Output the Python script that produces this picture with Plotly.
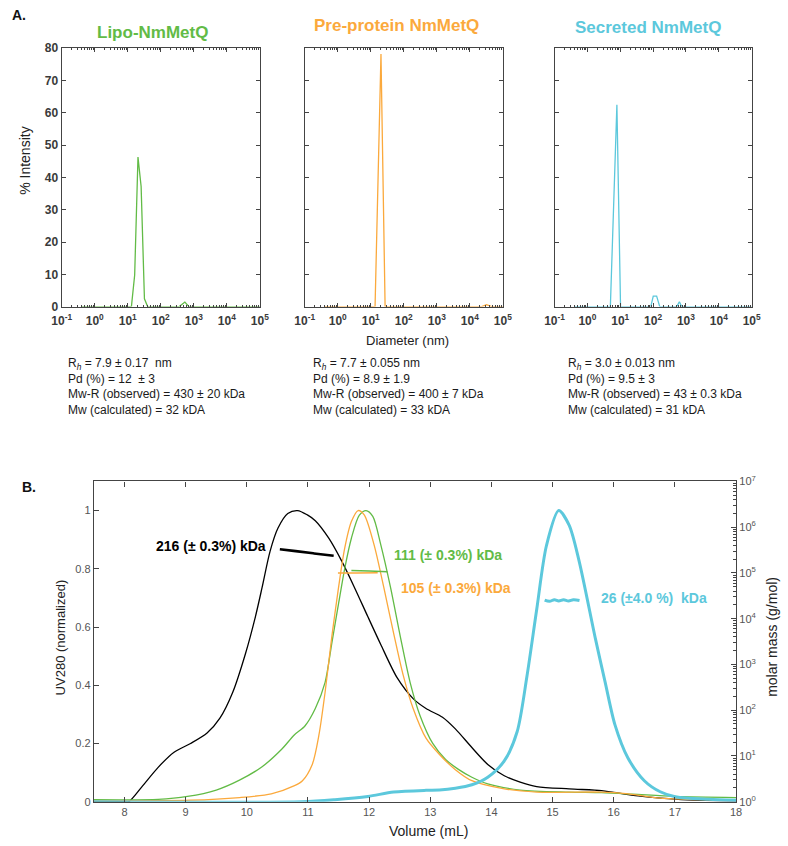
import plotly.graph_objects as go

W, H = 788, 846
GREEN = "#62BB46"
ORANGE = "#FBA93C"
CYAN = "#5CC8DC"
BLACK = "#000000"
AX = "#444444"
FONT = "Liberation Sans, Arial, Helvetica, sans-serif"

# ---------------- Panel A data (DLS, % intensity vs diameter nm) -------------
lipo_d = [0.4, 12.9, 16.2, 20.4, 25.4, 32, 40, 363, 537, 716, 1e5]
lipo_i = [0, 0, 9.8, 46.3, 37.2, 2.4, 0, 0, 1.4, 0, 0]

pre_d = [0.4, 13.5, 20.4, 27.2, 2.3e4, 3.2e4, 4.6e4, 1e5]
pre_i = [0, 0, 78.2, 0, 0, 0.6, 0, 0]

sec_d = [0.4, 5.0, 7.9, 10.2, 85, 101, 128, 159, 525, 630, 740, 1e5]
sec_i = [0, 0, 62.5, 0, 0, 3.25, 3.25, 0, 0, 1.5, 0, 0]

panel_titles = ["Lipo-NmMetQ", "Pre-protein NmMetQ", "Secreted NmMetQ"]
dec_vals = [0.1, 1, 10, 100, 1e3, 1e4, 1e5]
dec_text = ["10<sup>-1</sup>", "10<sup>0</sup>", "10<sup>1</sup>", "10<sup>2</sup>",
            "10<sup>3</sup>", "10<sup>4</sup>", "10<sup>5</sup>"]
int_ticks = [0, 10, 20, 30, 40, 50, 60, 70, 80]

stats = [
    ["R<sub><i>h</i></sub> = 7.9 ± 0.17  nm", "Pd (%) = 12  ± 3",
     "Mw-R (observed) = 430 ± 20 kDa", "Mw (calculated) = 32 kDA"],
    ["R<sub><i>h</i></sub> = 7.7 ± 0.055 nm", "Pd (%) = 8.9 ± 1.9",
     "Mw-R (observed) = 400 ± 7 kDa", "Mw (calculated) = 33 kDA"],
    ["R<sub><i>h</i></sub> = 3.0 ± 0.013 nm", "Pd (%) = 9.5 ± 3",
     "Mw-R (observed) = 43 ± 0.3 kDa", "Mw (calculated) = 31 kDA"],
]

# ---------------- Panel B data (SEC-MALS) ------------------------------------
black_x = [7.5, 8.0, 8.07, 8.28, 8.55, 8.81, 9.08, 9.35, 9.56, 9.77, 9.98, 10.14, 10.25,
           10.38, 10.51, 10.67, 10.83, 10.99, 11.12, 11.34, 11.55, 11.76, 11.98, 12.19,
           12.46, 12.72, 12.93, 13.2, 13.41, 13.68, 13.94, 14.21, 14.47, 14.74, 15.27,
           15.8, 16.0, 16.4, 16.77, 17.2, 18.0]
black_y = [0.0, 0.0, 0.0, 0.05, 0.118, 0.17, 0.2, 0.236, 0.287, 0.376, 0.51, 0.635, 0.736,
           0.86, 0.94, 0.99, 1.0, 0.985, 0.965, 0.905, 0.827, 0.736, 0.635, 0.54,
           0.425, 0.354, 0.32, 0.29, 0.25, 0.186, 0.128, 0.089, 0.067, 0.052, 0.044,
           0.038, 0.032, 0.02, 0.012, 0.006, 0.003]

green_x = [7.5, 8.55, 9.03, 9.5, 9.88, 10.25, 10.57, 10.78, 10.95, 11.12, 11.28, 11.39,
           11.5, 11.6, 11.71, 11.84, 11.95, 12.06, 12.19, 12.35, 12.51, 12.67, 12.83,
           13.04, 13.25, 13.46, 13.68, 13.94, 14.47, 15.27, 15.8, 16.3, 17.0, 18.0]
green_y = [0.007, 0.008, 0.018, 0.04, 0.074, 0.12, 0.18, 0.23, 0.26, 0.32, 0.41, 0.545,
           0.68, 0.80, 0.905, 0.984, 1.0, 0.98, 0.883, 0.736, 0.567, 0.41, 0.297,
           0.2, 0.145, 0.111, 0.084, 0.061, 0.04, 0.033, 0.031, 0.026, 0.018, 0.014]

orange_x = [7.5, 9.08, 9.88, 10.4, 10.78, 10.91, 11.07, 11.18, 11.28, 11.39, 11.5, 11.6,
            11.71, 11.82, 11.92, 12.08, 12.24, 12.4, 12.56, 12.72, 12.93, 13.15, 13.41,
            13.68, 14.21, 14.74, 15.8, 16.2, 16.76, 17.4, 18.0]
orange_y = [0.003, 0.005, 0.014, 0.027, 0.055, 0.072, 0.128, 0.23, 0.376, 0.567, 0.736, 0.87,
            0.962, 1.0, 0.985, 0.883, 0.736, 0.579, 0.432, 0.32, 0.218, 0.162, 0.11,
            0.072, 0.044, 0.033, 0.033, 0.028, 0.012, 0.007, 0.005]

cyan_x = [7.5, 10.9, 11.44, 11.98, 12.4, 12.93, 13.15, 13.41, 13.68, 13.94, 14.21, 14.42,
          14.58, 14.74, 14.9, 15.1, 15.27, 15.43, 15.7, 15.86, 16.02, 16.23, 16.5, 16.76,
          17.02, 17.55, 18.0]
cyan_y = [0.0, 0.0, 0.007, 0.018, 0.033, 0.039, 0.04, 0.046, 0.058, 0.084, 0.14, 0.24,
          0.43, 0.66, 0.88, 1.0, 0.95, 0.83, 0.56, 0.41, 0.264, 0.151, 0.072, 0.034,
          0.016, 0.008, 0.005]

# molar mass (g/mol) on right log axis
mm_black_x = [10.54, 10.8, 11.1, 11.42]
mm_black_y = [3.3e5, 3.0e5, 2.67e5, 2.37e5]
mm_green_x = [11.71, 12.0, 12.3]
mm_green_y = [1.13e5, 1.1e5, 1.06e5]
mm_orange_x = [11.49, 11.8, 12.14]
mm_orange_y = [1.0e5, 1.0e5, 1.01e5]
mm_cyan_x = [14.87, 14.95, 15.03, 15.1, 15.18, 15.26, 15.34, 15.44]
mm_cyan_y = [2.55e4, 2.4e4, 2.6e4, 2.45e4, 2.6e4, 2.45e4, 2.6e4, 2.5e4]

vol_ticks = [8, 9, 10, 11, 12, 13, 14, 15, 16, 17, 18]
uv_ticks = [0, 0.2, 0.4, 0.6, 0.8, 1.0]
uv_text = ["0", "0.2", "0.4", "0.6", "0.8", "1"]
mm_vals = [1, 10, 100, 1e3, 1e4, 1e5, 1e6, 1e7]
mm_text = ["10<sup>%d</sup>" % i for i in range(8)]

mass_labels = [
    ("216 (± 0.3%) kDa", BLACK, 206, 548),
    ("111 (± 0.3%) kDa", GREEN, 449, 557),
    ("105 (± 0.3%) kDa", ORANGE, 457, 590),
    ("26 (±4.0 %)  kDa", CYAN, 660, 601),
]


def pxx(x):
    return x / W


def pxy(y):
    return 1 - y / H


fig = go.Figure()

# Panel A traces
for (d, i, c, n) in [(lipo_d, lipo_i, GREEN, ""), (pre_d, pre_i, ORANGE, "2"), (sec_d, sec_i, CYAN, "3")]:
    fig.add_trace(go.Scatter(x=d, y=i, mode="lines", line=dict(color=c, width=1.3),
                             xaxis="x" + n, yaxis="y" + n, showlegend=False, hoverinfo="skip"))

# Panel B traces
for (xx, yy, c, w) in [(black_x, black_y, BLACK, 1.3), (green_x, green_y, GREEN, 1.3),
                       (orange_x, orange_y, ORANGE, 1.3), (cyan_x, cyan_y, CYAN, 3.0)]:
    fig.add_trace(go.Scatter(x=xx, y=yy, mode="lines", line=dict(color=c, width=w, shape="spline", smoothing=0.8),
                             xaxis="x4", yaxis="y4", showlegend=False, hoverinfo="skip"))

for (xx, yy, c, w) in [(mm_black_x, mm_black_y, BLACK, 2.6), (mm_orange_x, mm_orange_y, ORANGE, 1.5),
                       (mm_green_x, mm_green_y, GREEN, 1.5), (mm_cyan_x, mm_cyan_y, CYAN, 3.0)]:
    fig.add_trace(go.Scatter(x=xx, y=yy, mode="lines", line=dict(color=c, width=w, shape="spline"),
                             xaxis="x4", yaxis="y5", showlegend=False, hoverinfo="skip"))

minor_log = [m * 10 ** e for e in range(-1, 5) for m in range(2, 10)]
minor_mm = [m * 10 ** e for e in range(0, 7) for m in range(2, 10)]

top_dom_y = [pxy(304), pxy(41)]
top_doms_x = [[pxx(53), pxx(256)], [pxx(302), pxx(505)], [pxx(558), pxx(760)]]

layout = dict(
    width=W, height=H, margin=dict(l=0, r=0, t=0, b=0),
    paper_bgcolor="white", plot_bgcolor="white",
    font=dict(family=FONT, color="#222"),
    showlegend=False,
)

for k, n in enumerate(["", "2", "3"]):
    layout["xaxis" + n] = dict(
        type="log", range=[-1, 5], domain=top_doms_x[k], anchor="y" + n,
        tickmode="array", tickvals=dec_vals, ticktext=dec_text,
        ticks="inside", ticklen=4, tickcolor=AX, showline=True, linecolor=AX, linewidth=1.2,
        mirror="ticks", showgrid=False, zeroline=False, ticklabelstandoff=3,
        minor=dict(tickvals=minor_log, ticks="inside", ticklen=2, tickcolor=AX, showgrid=False),
        tickfont=dict(size=12, color="#3a3a3a", weight="bold"),
    )
    layout["yaxis" + n] = dict(
        range=[0, 80], domain=top_dom_y, anchor="x" + n,
        tickmode="array", tickvals=int_ticks, showticklabels=(k == 0),
        ticks="inside", ticklen=4, tickcolor=AX, showline=True, linecolor=AX, linewidth=1.2,
        mirror="ticks", showgrid=False, zeroline=False,
        tickfont=dict(size=12, color="#3a3a3a", weight="bold"),
    )

layout["xaxis4"] = dict(
    range=[7.5, 18], domain=[pxx(86), pxx(744)], anchor="y4",
    tickmode="array", tickvals=vol_ticks,
    ticks="inside", ticklen=5, tickcolor=AX, showline=True, linecolor=AX, linewidth=1.2,
    mirror="ticks", showgrid=False, zeroline=False,
    tickfont=dict(size=11, color="#555"),
)
layout["yaxis4"] = dict(
    range=[0, 1.1], domain=[pxy(808), pxy(482)], anchor="x4",
    tickmode="array", tickvals=uv_ticks, ticktext=uv_text,
    ticks="inside", ticklen=5, tickcolor=AX, showline=True, linecolor=AX, linewidth=1.2,
    showgrid=False, zeroline=False,
    tickfont=dict(size=11, color="#555"),
)
layout["yaxis5"] = dict(
    type="log", range=[0, 7], overlaying="y4", side="right", anchor="x4",
    tickmode="array", tickvals=mm_vals, ticktext=mm_text,
    ticks="inside", ticklen=5, tickcolor=AX, showline=True, linecolor=AX, linewidth=1.2,
    showgrid=False, zeroline=False,
    minor=dict(tickvals=minor_mm, ticks="inside", ticklen=3, tickcolor=AX, showgrid=False),
    tickfont=dict(size=11, color="#555"),
)

fig.update_layout(**layout)

ann = []


def add_text(text, x, y, size=13, color="#222", bold=False, xanchor="center", yanchor="middle", angle=0,
             align="center"):
    ann.append(dict(text=("<b>%s</b>" % text) if bold else text, x=pxx(x), y=pxy(y),
                    xref="paper", yref="paper", showarrow=False, xanchor=xanchor, yanchor=yanchor,
                    textangle=angle, align=align, font=dict(family=FONT, size=size, color=color)))


add_text("A.", 0, 7, size=14, color="#111", bold=True, xanchor="left")
add_text("B.", 10, 488, size=14, color="#111", bold=True, xanchor="left")

title_pos = [(146, 25, GREEN), (396, 18, ORANGE), (654, 20, CYAN)]
for t, (x, y, c) in zip(panel_titles, title_pos):
    add_text(t, x, y, size=17, color=c, bold=True)

add_text("% Intensity", 16, 156, size=14, color="#222", angle=-90)
add_text("Diameter (nm)", 407, 339, size=13, color="#222")

col_x = [57, 308, 570]
for cx, lines in zip(col_x, stats):
    add_text("<br>".join(lines), cx, 385, size=12, color="#1a1a1a", xanchor="left", align="left")

for (t, c, x, y) in mass_labels:
    add_text(t, x, y, size=14, color=c, bold=True)

add_text("UV280 (normalized)", 52, 641, size=13, color="#222", angle=-90)
add_text("molar mass (g/mol)", 780, 640, size=14, color="#222", angle=-90)
add_text("Volume (mL)", 429, 838, size=14, color="#222")

fig.update_layout(annotations=ann)
fig.write_html("out.html", config={"displayModeBar": False},
               post_script="document.body.style.margin='0';document.body.style.overflow='hidden';")
